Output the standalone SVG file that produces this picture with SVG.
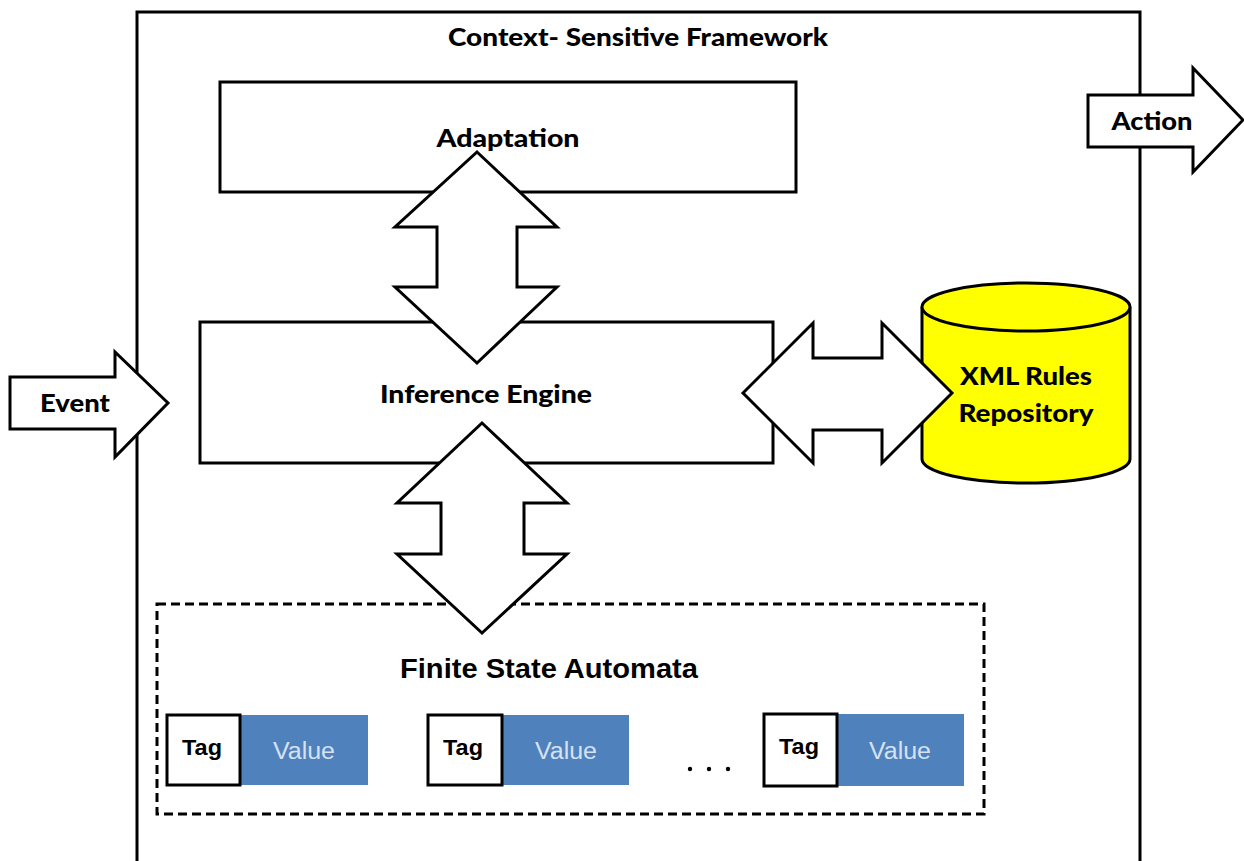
<svg xmlns="http://www.w3.org/2000/svg" width="1244" height="861" viewBox="0 0 1244 861">
  <style>
    .box { fill: #ffffff; stroke: #000000; stroke-width: 3; }
    .big { fill: #ffffff; stroke: #000000; stroke-width: 3; stroke-linejoin: miter; }
    .lbl { font-family: Lato, "Liberation Sans", sans-serif; font-weight: 900; fill: #000000; }
    .tag { font-family: "Liberation Sans", Arial, sans-serif; font-weight: bold; font-size: 22px; fill: #000000; }
    .val { font-family: "Liberation Sans", Arial, sans-serif; font-size: 23px; fill: #d6e2f0; }
  </style>
  <rect width="1244" height="861" fill="#ffffff"/>

  <!-- outer framework boundary -->
  <g id="framework">
    <rect x="137" y="12" width="1003" height="870" class="box" fill="none"/>
    <text x="638" y="46" class="lbl" font-size="25" text-anchor="middle" textLength="380" lengthAdjust="spacingAndGlyphs">Context- Sensitive Framework</text>
  </g>

  <g id="adaptation">
    <rect x="220" y="82" width="576" height="110" class="box"/>
    <text x="508" y="147" class="lbl" font-size="25" text-anchor="middle" textLength="143" lengthAdjust="spacingAndGlyphs">Adaptation</text>
  </g>

  <g id="repository">
    <path d="M922,307 L922,459 A104,24 0 0 0 1130,459 L1130,307" fill="#ffff00" stroke="#000" stroke-width="3"/>
    <ellipse cx="1026" cy="307" rx="104" ry="24" fill="#ffff00" stroke="#000" stroke-width="3"/>
  </g>

  <g id="inference">
    <rect x="200" y="322" width="573" height="141" class="box"/>
    <text x="486" y="403" class="lbl" font-size="25" text-anchor="middle" textLength="212" lengthAdjust="spacingAndGlyphs">Inference Engine</text>
  </g>

  <g id="fsa">
    <rect x="157" y="604" width="827" height="210" fill="none" stroke="#000" stroke-width="3" stroke-dasharray="9,5"/>
    <text x="549" y="678" font-family="'Liberation Sans', Arial, sans-serif" font-weight="bold" font-size="27" text-anchor="middle" textLength="298" lengthAdjust="spacingAndGlyphs">Finite State Automata</text>
  </g>

  <g id="pair1">
    <rect x="240" y="715" width="128" height="70" fill="#4f81bd"/>
    <rect x="167" y="715" width="73" height="70" fill="#fff" stroke="#000" stroke-width="3"/>
    <text x="182" y="755" class="tag" textLength="40" lengthAdjust="spacingAndGlyphs">Tag</text>
    <text x="304" y="759" class="val" text-anchor="middle" textLength="62" lengthAdjust="spacingAndGlyphs">Value</text>
  </g>
  <g id="pair2">
    <rect x="502" y="715" width="127" height="70" fill="#4f81bd"/>
    <rect x="428" y="715" width="74" height="70" fill="#fff" stroke="#000" stroke-width="3"/>
    <text x="443" y="755" class="tag" textLength="40" lengthAdjust="spacingAndGlyphs">Tag</text>
    <text x="566" y="759" class="val" text-anchor="middle" textLength="62" lengthAdjust="spacingAndGlyphs">Value</text>
  </g>
  <g id="ellipsis">
    <circle cx="690" cy="769" r="2.2" fill="#000"/>
    <circle cx="709" cy="769" r="2.2" fill="#000"/>
    <circle cx="728" cy="769" r="2.2" fill="#000"/>
  </g>
  <g id="pair3">
    <rect x="837" y="714" width="127" height="72" fill="#4f81bd"/>
    <rect x="764" y="714" width="73" height="72" fill="#fff" stroke="#000" stroke-width="3"/>
    <text x="779" y="754" class="tag" textLength="40" lengthAdjust="spacingAndGlyphs">Tag</text>
    <text x="900" y="759" class="val" text-anchor="middle" textLength="62" lengthAdjust="spacingAndGlyphs">Value</text>
  </g>

  <!-- block arrows linking the components -->
  <g id="connectors">
    <path class="big" d="M477,152 L557,227 L517,227 L517,287 L557,287 L477,363 L395,287 L437,287 L437,227 L395,227 Z"/>
    <path class="big" d="M482,423 L567,503 L524,503 L524,554 L567,554 L482,633 L397,554 L441,554 L441,503 L397,503 Z"/>
    <path class="big" d="M743,393 L813,323 L813,358 L882,358 L882,323 L952,393 L882,463 L882,430 L813,430 L813,463 Z"/>
  </g>

  <g id="repository-label">
    <text x="1026" y="385" class="lbl" font-size="24" text-anchor="middle" textLength="132" lengthAdjust="spacingAndGlyphs">XML Rules</text>
    <text x="1026" y="422" class="lbl" font-size="24" text-anchor="middle" textLength="135" lengthAdjust="spacingAndGlyphs">Repository</text>
  </g>

  <g id="event">
    <path class="big" d="M10,377 L115,377 L115,352 L168,403 L115,457 L115,429 L10,429 Z"/>
    <text x="75" y="412" class="lbl" font-size="24" text-anchor="middle" textLength="70" lengthAdjust="spacingAndGlyphs">Event</text>
  </g>

  <g id="action">
    <path class="big" d="M1088,95 L1193,95 L1193,68 L1243,120 L1193,172 L1193,147 L1088,147 Z"/>
    <text x="1152" y="130" class="lbl" font-size="24" text-anchor="middle" textLength="81" lengthAdjust="spacingAndGlyphs">Action</text>
  </g>
</svg>
